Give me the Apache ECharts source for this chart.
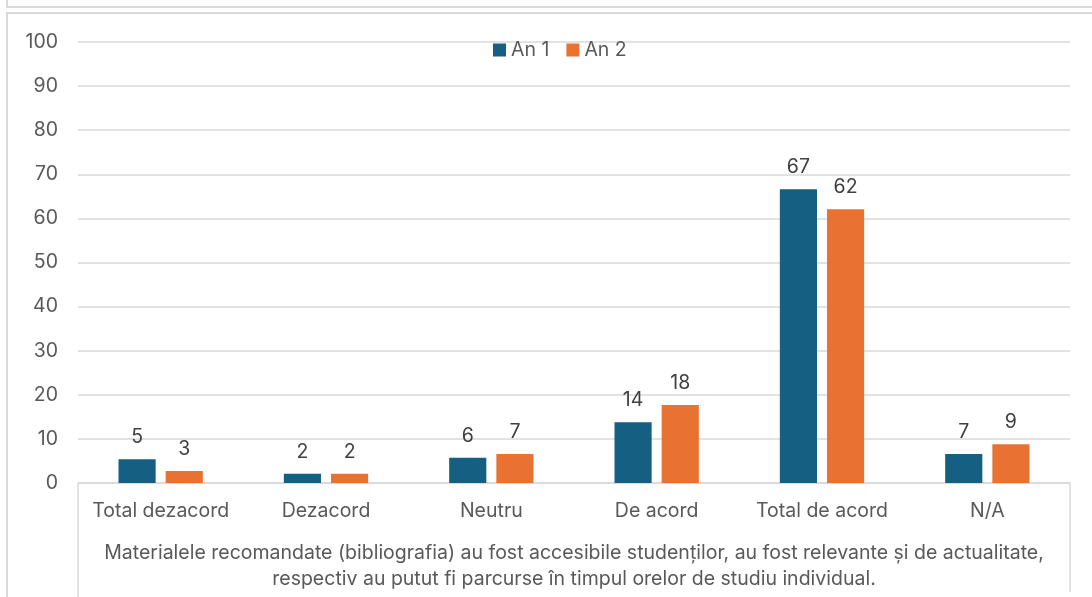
<!DOCTYPE html>
<html>
<head>
<meta charset="utf-8">
<title>Materiale recomandate</title>
<script src="https://cdn.jsdelivr.net/npm/echarts@6/dist/echarts.min.js"></script>
<style>
  html, body { margin: 0; padding: 0; background: #fff; }
  #chart { width: 1092px; height: 597px; }
</style>
</head>
<body>
<div id="chart"></div>
<script>
// categorii (axa X)
var categories = ["Total dezacord", "Dezacord", "Neutru", "De acord", "Total de acord", "N/A"];
// procente
var an1 = [5.4, 2.1, 5.7, 13.8, 66.6, 6.6];
var an2 = [2.7, 2.1, 6.6, 17.7, 62.1, 8.8];
var seriesNames = ["An 1", "An 2"];
var axisTitle = "Materialele recomandate (bibliografia) au fost accesibile studenților, au fost relevante și de actualitate,\nrespectiv au putut fi parcurse în timpul orelor de studiu individual.";

var fontFamily = "Inter, 'Noto Sans', sans-serif";
var fs = 19.5;
var chart = echarts.init(document.getElementById("chart"));

function barLabel() {
  return {
    show: true,
    position: "top",
    distance: 12,
    fontSize: fs,
    color: "#404040",
    formatter: function (p) { return Math.round(p.value); }
  };
}

chart.setOption({
  animation: false,
  textStyle: { fontFamily: fontFamily },
  legend: {
    top: 35,
    left: 488,
    itemWidth: 13,
    itemHeight: 13,
    itemGap: 17,
    icon: "rect",
    data: seriesNames,
    textStyle: { fontSize: fs, color: "#595959", fontFamily: fontFamily }
  },
  grid: {
    left: 78,
    right: 22,
    top: 42,
    bottom: 114
  },
  xAxis: {
    type: "category",
    data: categories,
    axisLine: { lineStyle: { color: "#d9d9d9", width: 1.5 } },
    axisTick: { show: false },
    axisLabel: { fontSize: fs, color: "#595959", margin: 18, interval: 0, hideOverlap: false },
    name: axisTitle,
    nameLocation: "middle",
    nameGap: 57,
    nameTextStyle: { fontSize: fs, color: "#595959", lineHeight: 26, align: "center" }
  },
  yAxis: {
    type: "value",
    min: 0,
    max: 100,
    interval: 10,
    axisLine: { show: false },
    axisTick: { show: false },
    axisLabel: { fontSize: fs, color: "#595959", margin: 20 },
    splitLine: { lineStyle: { color: "#d9d9d9", width: 1.5 } }
  },
  series: [
    {
      name: seriesNames[0],
      type: "bar",
      data: an1,
      barGap: "27%",
      barCategoryGap: "49%",
      itemStyle: { color: "#156082" },
      label: barLabel()
    },
    {
      name: seriesNames[1],
      type: "bar",
      data: an2,
      barGap: "27%",
      barCategoryGap: "49%",
      itemStyle: { color: "#e97132" },
      label: barLabel()
    }
  ],
  graphic: [
    // chenarul graficului de deasupra si al acestui grafic
    { type: "polyline", silent: true, shape: { points: [[7, 0], [7, 7], [1092, 7]] }, style: { stroke: "#d9d9d9", lineWidth: 2, fill: null } },
    { type: "polyline", silent: true, shape: { points: [[1092, 13], [7, 13], [7, 597]] }, style: { stroke: "#d9d9d9", lineWidth: 2, fill: null } },
    // casuta etichetelor de categorie
    { type: "line", silent: true, shape: { x1: 78, y1: 483, x2: 78, y2: 597 }, style: { stroke: "#d9d9d9", lineWidth: 1.5 } },
    { type: "line", silent: true, shape: { x1: 1070, y1: 483, x2: 1070, y2: 592 }, style: { stroke: "#d9d9d9", lineWidth: 1.5 } }
  ]
});
</script>
</body>
</html>
